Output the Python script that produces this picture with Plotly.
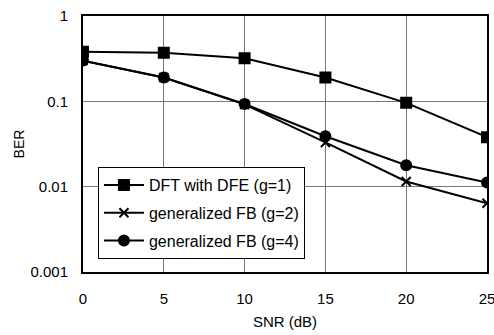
import plotly.graph_objects as go

snr = [0, 5, 10, 15, 20, 25]
ber_dft = [0.38, 0.37, 0.32, 0.19, 0.096, 0.038]
ber_fb2 = [0.30, 0.19, 0.092, 0.033, 0.0115, 0.0064]
ber_fb4 = [0.30, 0.19, 0.093, 0.039, 0.0178, 0.0112]
names = ["DFT with DFE (g=1)", "generalized FB (g=2)", "generalized FB (g=4)"]
y_ticks = [1, 0.1, 0.01, 0.001]
y_ticktext = ["1", "0.1", "0.01", "0.001"]
x_ticks = [0, 5, 10, 15, 20, 25]

fig = go.Figure()
series = [(ber_dft, "square", 10), (ber_fb2, "x-thin-open", 9), (ber_fb4, "circle", 10)]
for i, (ys, sym, sz) in enumerate(series):
    fig.add_trace(go.Scatter(
        x=snr, y=ys, name=names[i], mode="lines+markers", legendgroup=str(i),
        line=dict(color="black", width=2),
        marker=dict(symbol=sym, size=sz, color="black",
                    line=dict(color="black", width=2)),
    ))

font = "Liberation Sans, Arial, sans-serif"
fig.update_layout(
    width=494, height=335,
    margin=dict(l=83, r=7, t=16, b=63, autoexpand=False),
    paper_bgcolor="white", plot_bgcolor="white",
    font=dict(family=font, color="black", size=15),
    showlegend=True,
    legend=dict(x=0.037, y=0.41, xanchor="left", yanchor="top",
                bordercolor="black", borderwidth=1, bgcolor="white",
                font=dict(size=16), tracegroupgap=4, itemwidth=40),
    xaxis=dict(range=[0, 25], tickvals=x_ticks, showgrid=True,
               gridcolor="#777777", gridwidth=1, showline=True, mirror=True,
               linecolor="black", linewidth=2, ticks="", zeroline=False,
               ticklabelstandoff=12, ticklabeloverflow="allow",
               title=dict(text="SNR (dB)", font=dict(size=15), standoff=10),
               tickfont=dict(size=15)),
    yaxis=dict(type="log", range=[-3, 0], tickvals=y_ticks, ticktext=y_ticktext,
               showgrid=True, gridcolor="#777777", gridwidth=1, showline=True,
               mirror=True, linecolor="black", linewidth=2, ticks="",
               ticklabelstandoff=10, ticklabeloverflow="allow",
               title=dict(text="BER", font=dict(size=14), standoff=3),
               tickfont=dict(size=15)),
)

fig.write_html("out.html", config={"displayModeBar": False},
               post_script="document.body.style.margin='0';")
